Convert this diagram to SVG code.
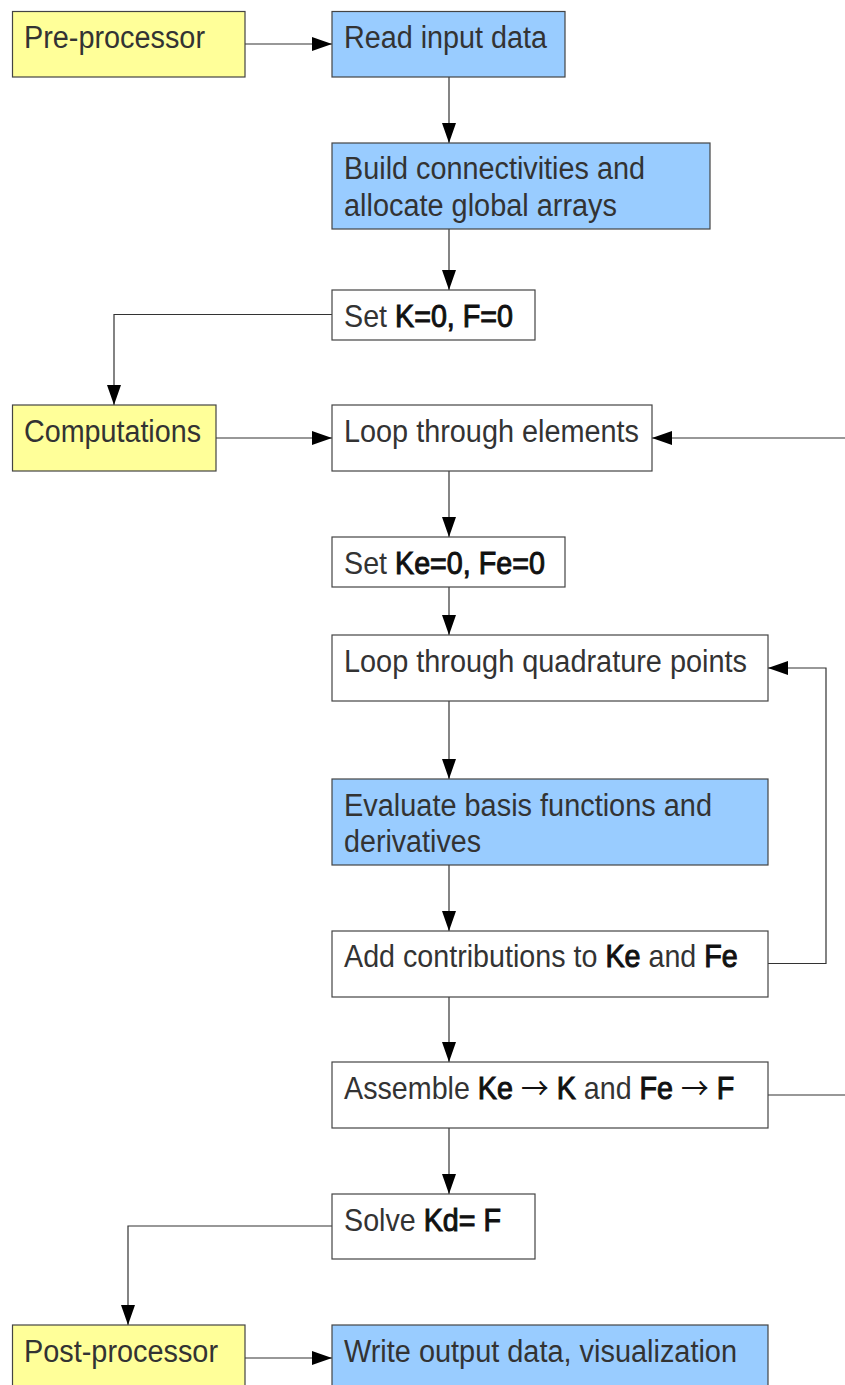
<svg xmlns="http://www.w3.org/2000/svg" width="845" height="1385" viewBox="0 0 845 1385">
<style>
.box{stroke:#444;stroke-width:1.2}
.y{fill:#ffff99}
.b{fill:#99ccff}
.w{fill:#ffffff}
text{font-family:"Liberation Sans",Arial,sans-serif;font-size:31px;fill:#333}
.k{fill:#111;stroke:#111;stroke-width:1}
.ar{font-family:"Noto Sans CJK SC",sans-serif;font-size:30px;fill:#111}
.c{fill:none;stroke:#333;stroke-width:1.2}
</style>
<defs>
<marker id="ah" markerUnits="userSpaceOnUse" markerWidth="20" markerHeight="14" refX="20" refY="7" orient="auto">
<path d="M0,0 L20,7 L0,14 Z" fill="#000"/>
</marker>
</defs>
<rect width="845" height="1385" fill="#fff"/>
<g id="connectors">
<path class="c" d="M245,44 H332" marker-end="url(#ah)"/>
<path class="c" d="M449,77 V143" marker-end="url(#ah)"/>
<path class="c" d="M449,229 V290" marker-end="url(#ah)"/>
<path class="c" d="M332,314.5 H114 V405" marker-end="url(#ah)"/>
<path class="c" d="M216,438 H332" marker-end="url(#ah)"/>
<path class="c" d="M768,1095 H850 V438 H652" marker-end="url(#ah)"/>
<path class="c" d="M449,471 V537" marker-end="url(#ah)"/>
<path class="c" d="M449,587 V635" marker-end="url(#ah)"/>
<path class="c" d="M449,701 V779" marker-end="url(#ah)"/>
<path class="c" d="M449,865 V931" marker-end="url(#ah)"/>
<path class="c" d="M768,963.5 H826 V668 H768" marker-end="url(#ah)"/>
<path class="c" d="M449,997 V1062" marker-end="url(#ah)"/>
<path class="c" d="M449,1128 V1194" marker-end="url(#ah)"/>
<path class="c" d="M332,1226 H128 V1325" marker-end="url(#ah)"/>
<path class="c" d="M245,1358 H332" marker-end="url(#ah)"/>
</g>
<g id="pre">
<rect class="box y" x="12.5" y="11.5" width="232.5" height="65.5"/>
<text x="24" y="48" textLength="181" lengthAdjust="spacingAndGlyphs">Pre-processor</text>
</g>
<g id="read">
<rect class="box b" x="332" y="11.5" width="233" height="65.5"/>
<text x="344" y="48" textLength="203" lengthAdjust="spacingAndGlyphs">Read input data</text>
</g>
<g id="build">
<rect class="box b" x="332" y="143" width="378" height="86"/>
<text x="344" y="179" textLength="301" lengthAdjust="spacingAndGlyphs">Build connectivities and</text>
<text x="344" y="216" textLength="273" lengthAdjust="spacingAndGlyphs">allocate global arrays</text>
</g>
<g id="setK">
<rect class="box w" x="332" y="290" width="203" height="50"/>
<text transform="translate(344,327) scale(0.925,1)">Set <tspan class="k">K=0, F=0</tspan></text>
</g>
<g id="comp">
<rect class="box y" x="12.5" y="405" width="203.5" height="66"/>
<text x="24" y="442" textLength="177" lengthAdjust="spacingAndGlyphs">Computations</text>
</g>
<g id="loopEl">
<rect class="box w" x="332" y="405" width="320" height="66"/>
<text x="344" y="442" textLength="295" lengthAdjust="spacingAndGlyphs">Loop through elements</text>
</g>
<g id="setKe">
<rect class="box w" x="332" y="537" width="233" height="50"/>
<text transform="translate(344,574) scale(0.925,1)">Set <tspan class="k">Ke=0, Fe=0</tspan></text>
</g>
<g id="loopQ">
<rect class="box w" x="332" y="635" width="436" height="66"/>
<text x="344" y="672" textLength="403" lengthAdjust="spacingAndGlyphs">Loop through quadrature points</text>
</g>
<g id="eval">
<rect class="box b" x="332" y="779" width="436" height="86"/>
<text x="344" y="816" textLength="368" lengthAdjust="spacingAndGlyphs">Evaluate basis functions and</text>
<text x="344" y="852" textLength="137" lengthAdjust="spacingAndGlyphs">derivatives</text>
</g>
<g id="add">
<rect class="box w" x="332" y="931" width="436" height="66"/>
<text transform="translate(344,967) scale(0.925,1)">Add contributions to <tspan class="k">Ke</tspan> and <tspan class="k">Fe</tspan></text>
</g>
<g id="assemble">
<rect class="box w" x="332" y="1062" width="436" height="66"/>
<text transform="translate(344,1099) scale(0.925,1)">Assemble <tspan class="k">Ke</tspan> <tspan class="ar">→</tspan> <tspan class="k">K</tspan> and <tspan class="k">Fe</tspan> <tspan class="ar">→</tspan> <tspan class="k">F</tspan></text>
</g>
<g id="solve">
<rect class="box w" x="332" y="1194" width="203" height="65"/>
<text transform="translate(344,1231) scale(0.925,1)">Solve <tspan class="k">Kd= F</tspan></text>
</g>
<g id="post">
<rect class="box y" x="12.5" y="1325" width="232.5" height="70"/>
<text x="24" y="1362" textLength="194" lengthAdjust="spacingAndGlyphs">Post-processor</text>
</g>
<g id="write">
<rect class="box b" x="332" y="1325" width="436" height="70"/>
<text x="344" y="1362" textLength="393" lengthAdjust="spacingAndGlyphs">Write output data, visualization</text>
</g>
</svg>
